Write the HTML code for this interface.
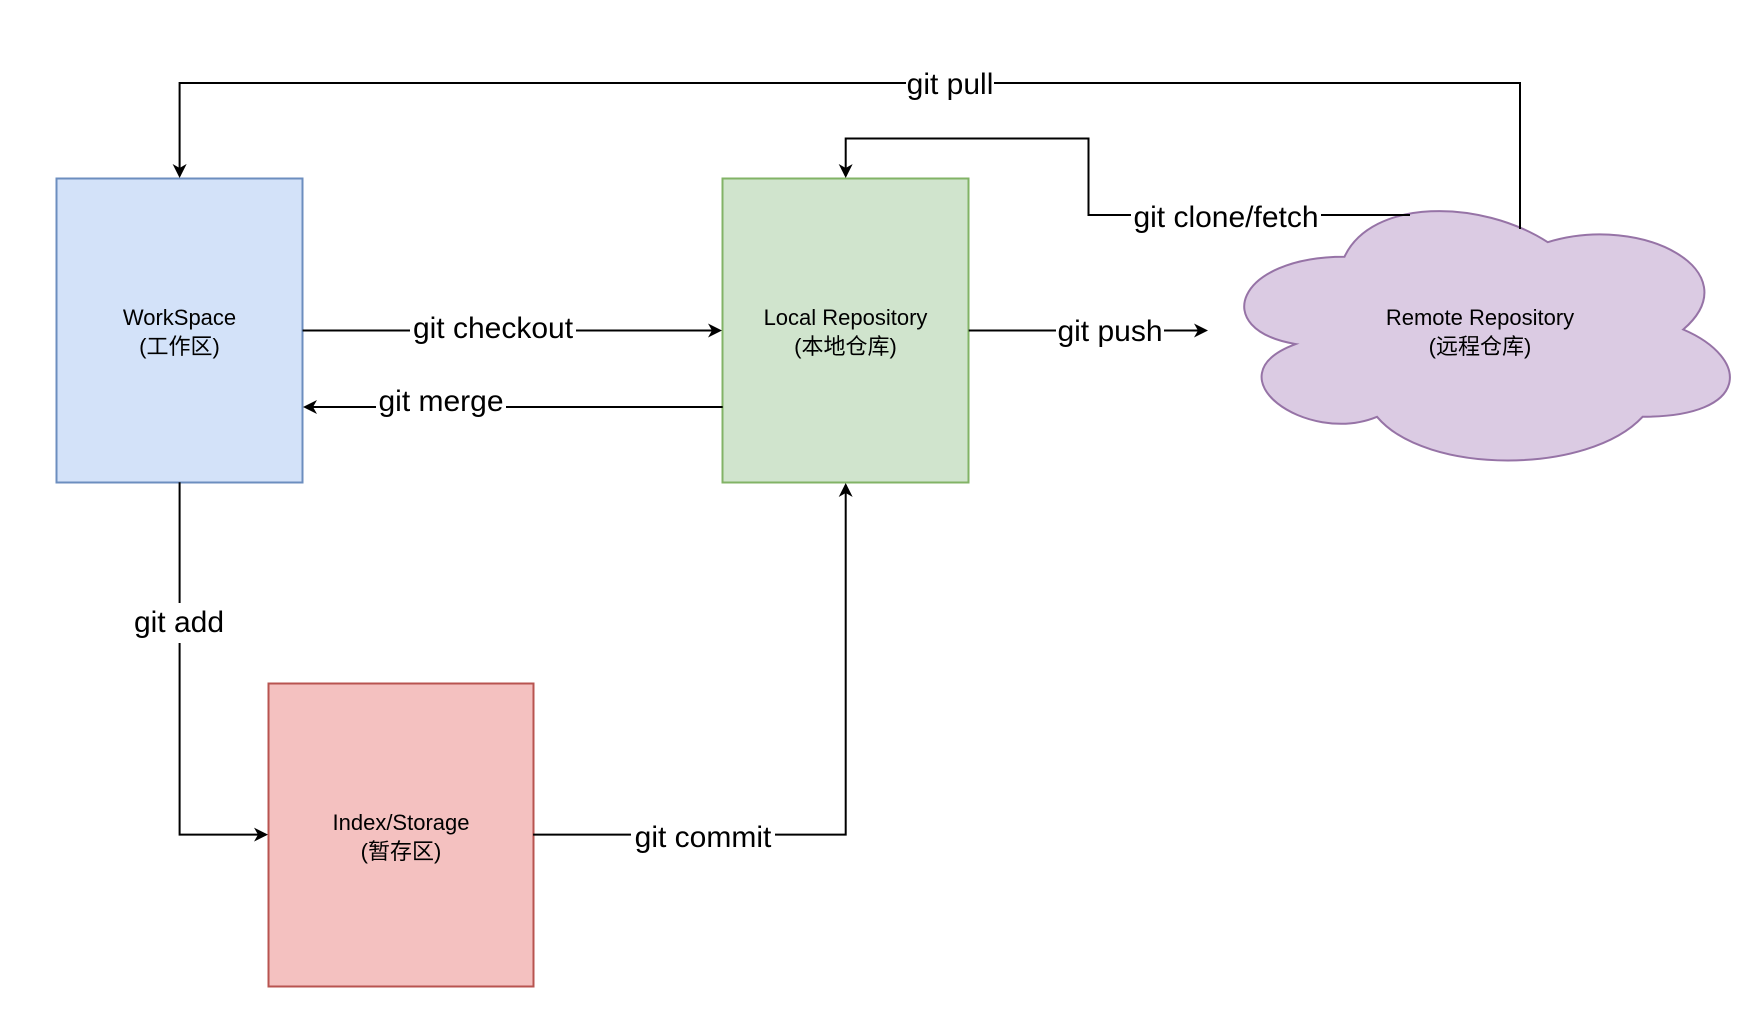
<!DOCTYPE html>
<html><head><meta charset="utf-8"><style>
html,body{margin:0;padding:0;background:#fff;}
svg{display:block;}
.lbl{font-family:"Liberation Sans","Noto Sans CJK SC",sans-serif;font-size:30px;fill:#000;}
.box{font-family:"Liberation Sans","Noto Sans CJK SC",sans-serif;font-size:22px;fill:#000;}
</style></head><body>
<svg width="1738" height="1036" viewBox="0 0 1738 1036" xmlns="http://www.w3.org/2000/svg">
<defs>
<marker id="a" markerWidth="14" markerHeight="14" refX="12" refY="7" orient="auto" markerUnits="userSpaceOnUse">
<path d="M0,0 L14,7 L0,14 L4,7 Z" fill="#000"/>
</marker>
</defs>
<rect x="56.5" y="178.5" width="246" height="304" fill="#d3e2f9" stroke="#6c8ebf" stroke-width="2"/>
<rect x="722.5" y="178.5" width="246" height="304" fill="#d0e4cd" stroke="#82b366" stroke-width="2"/>
<rect x="268.5" y="683.5" width="265" height="303" fill="#f4c1c0" stroke="#b85450" stroke-width="2"/>
<g transform="translate(1209,184) scale(542,291)">
<path d="M0.25,0.25 C0.05,0.25 0,0.5 0.16,0.55 C0,0.66 0.18,0.9 0.31,0.8 C0.4,1 0.7,1 0.8,0.8 C1,0.8 1,0.6 0.875,0.5 C1,0.3 0.8,0.1 0.625,0.2 C0.5,0.05 0.3,0.05 0.25,0.25 Z" fill="#dbcbe3" stroke="#9673a6" stroke-width="2" vector-effect="non-scaling-stroke"/>
</g>
<g fill="none" stroke="#000" stroke-width="2">
<path d="M1520,229 V83 H179.6 V176" marker-end="url(#a)"/>
<path d="M1410,215 H1088.5 V138.5 H845.7 V176" marker-end="url(#a)"/>
<path d="M302.6,330.5 H720" marker-end="url(#a)"/>
<path d="M722.7,407 H305" marker-end="url(#a)"/>
<path d="M968.7,330.5 H1206" marker-end="url(#a)"/>
<path d="M179.6,482.2 V834.6 H266" marker-end="url(#a)"/>
<path d="M533.1,834.6 H845.7 V485" marker-end="url(#a)"/>
</g>
<g class="lbl" text-anchor="middle">
<rect x="906" y="66" width="88" height="36" fill="#fff"/>
<text x="950" y="94">git pull</text>
<rect x="1131" y="198" width="190" height="36" fill="#fff"/>
<text x="1226" y="227">git clone/fetch</text>
<rect x="410" y="312" width="166" height="36" fill="#fff"/>
<text x="493" y="338">git checkout</text>
<rect x="376" y="388" width="130" height="36" fill="#fff"/>
<text x="441" y="411">git merge</text>
<rect x="1056" y="313" width="108" height="36" fill="#fff"/>
<text x="1110" y="341">git push</text>
<rect x="130" y="603" width="98" height="40" fill="#fff"/>
<text x="179" y="632">git add</text>
<rect x="631" y="817" width="144" height="36" fill="#fff"/>
<text x="703" y="847">git commit</text>
</g>
<g class="box" text-anchor="middle">
<text x="179.5" y="325">WorkSpace</text>
<text x="179.5" y="354">(工作区)</text>
<text x="845.5" y="325">Local Repository</text>
<text x="845.5" y="354">(本地仓库)</text>
<text x="401" y="830">Index/Storage</text>
<text x="401" y="859">(暂存区)</text>
<text x="1480" y="325">Remote Repository</text>
<text x="1480" y="354">(远程仓库)</text>
</g>
</svg>
</body></html>
